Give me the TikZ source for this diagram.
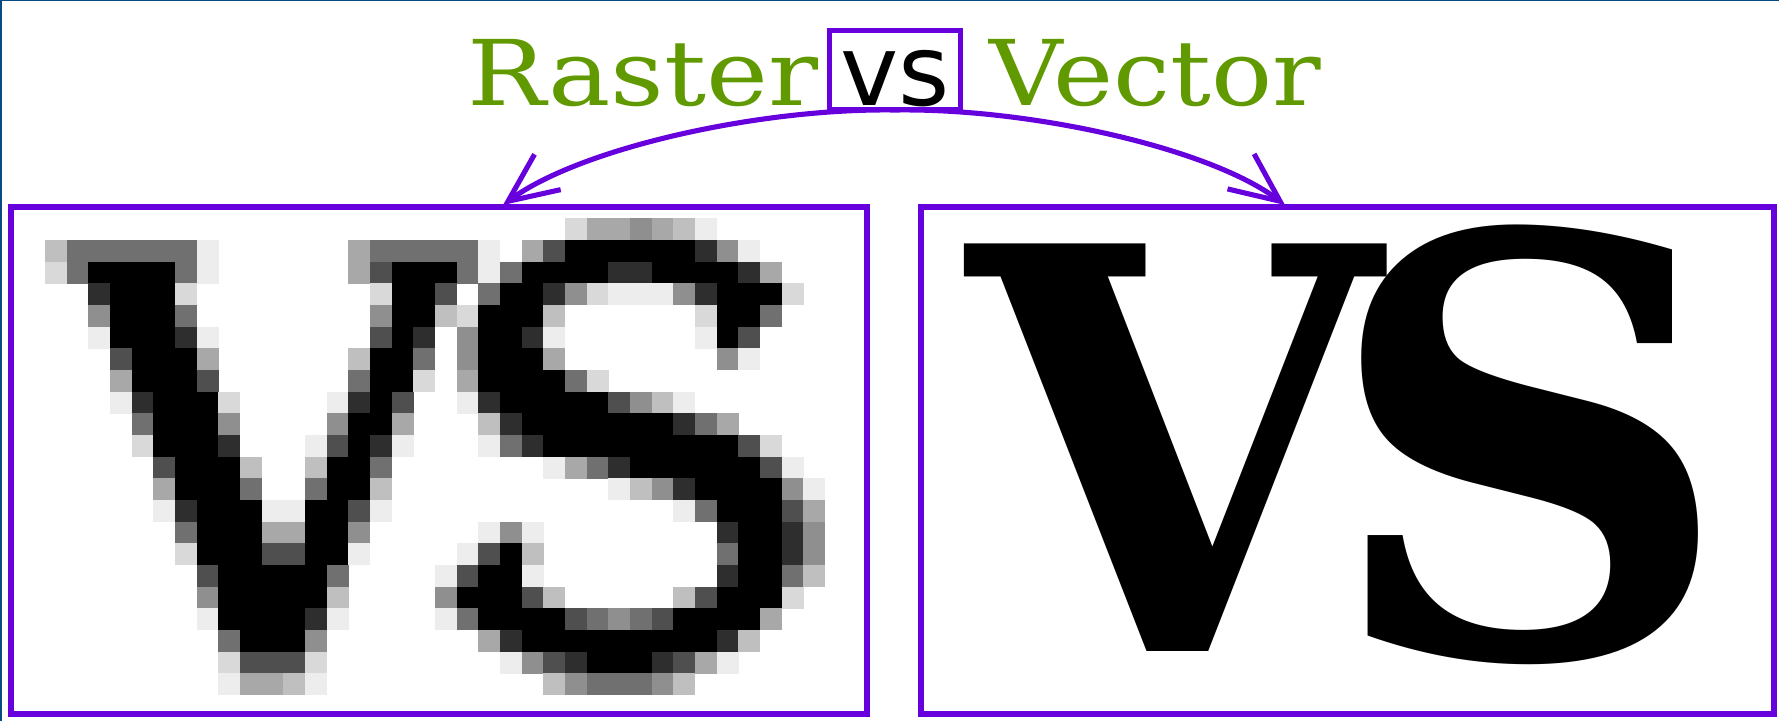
\documentclass[tikz,border=0pt]{standalone}
\usepackage{fontspec}
\usetikzlibrary{arrows.meta}
\newfontfamily\titlefont[FakeStretch=1.12]{DejaVu Serif}
\newfontfamily\vssans{DejaVu Sans}
\newfontfamily\bigserif{DejaVu Serif}
\definecolor{vpurple}{RGB}{102,0,221}
\definecolor{tgreen}{RGB}{96,153,0}
\definecolor{frameblue}{RGB}{8,74,130}
% pixel bitmap helpers
\newcommand\pxshade[1]{\ifcase#1 0\or 7\or 15\or 25\or 34\or 44\or 56\or 69\or 82\or 100\fi}
\newcommand\pxcell[1]{\ifnum#1>0 \edef\pxsh{\pxshade{#1}}\fill[black!\pxsh] ({45+21.67*\pxk},{218.3+21.67*\pxj}) rectangle ++(21.9,21.9);\fi\pgfmathtruncatemacro\pxk{\pxk+1}}
\def\pxparse#1{\ifx\relax#1\else\pxcell{#1}\expandafter\pxparse\fi}
\newcommand\pxrow[2]{\def\pxj{#1}\def\pxk{0}\pxparse#2\relax}
\tikzset{
  bigbox/.style={draw=vpurple, line width=1.7pt, inner sep=0pt, outer sep=0pt, minimum height=144.3pt},
  smallbox/.style={draw=vpurple, fill=white, line width=1.45pt, inner sep=0pt, outer sep=0pt,
    minimum width=37.3pt, minimum height=22.5pt, text height=20pt, text depth=0pt,
    font=\vssans\fontsize{28}{30}\selectfont},
  titletext/.style={text=tgreen, inner sep=0pt, font=\titlefont\fontsize{25.8}{28}\selectfont},
  link/.style={draw=vpurple, line width=1.45pt, -{Straight Barb[length=14pt,width=12.5pt]}},
  bigglyph/.style={inner sep=0pt, outer sep=0pt, font=\bigserif\bfseries\fontsize{159}{160}\selectfont}
}
\begin{document}
\begin{tikzpicture}[x=0.01cm,y=-0.01cm]
\useasboundingbox (0,0) rectangle (1779,721);
\fill[white] (0,0) rectangle (1779,721);
\fill[frameblue] (0,0) rectangle (1779,1.3);
\fill[frameblue] (0,0) rectangle (2.2,721);
% raster pixels
\pxrow{0}{000000000000000000000000244543100000}
\pxrow{1}{366666610000004666661047999999851000}
\pxrow{2}{269999610000004799961699998899998400}
\pxrow{3}{008999200000000299706998521115899920}
\pxrow{4}{005999600000000599329993000000299600}
\pxrow{5}{001999810000000798059981000000197000}
\pxrow{6}{000799940000003996059994000000051000}
\pxrow{7}{000499970000006992049999620000000000}
\pxrow{8}{000189992000018970018999997531000000}
\pxrow{9}{000069995000059940003899999998640000}
\pxrow{10}{000029998000179810001689999999997200}
\pxrow{11}{000007999300399600000001468999999710}
\pxrow{12}{000004999600699300000000001358999951}
\pxrow{13}{000001899911997100000000000001699974}
\pxrow{14}{000000699944995000001510000000089985}
\pxrow{15}{000000299977991000017930000000069985}
\pxrow{16}{000000079999960000179910000000089963}
\pxrow{17}{000000059999930000599973000003799920}
\pxrow{18}{000000019999810000169999765679999400}
\pxrow{19}{000000006999500000004899999999983000}
\pxrow{20}{000000002777200000000157899987410000}
\pxrow{21}{000000001443100000000003566653000000}
% boxes
\node[bigbox, minimum width=243.4pt] (rasterbox) at (439.25,460.75) {};
\node[bigbox, minimum width=242.7pt] (vectorbox) at (1347.5,460.75) {};
% vector glyphs
\node[bigglyph] (bigV) at (1174,448) {\scalebox{0.95}[1]{V}};
\node[bigglyph] (bigS) at (1528,445) {\scalebox{1.01}[1.04]{S}};
% title
\node[titletext, anchor=base] (raster) at (643,105) {\scalebox{1.03}[1]{Raster}};
\node[titletext, anchor=base] (vector) at (1155,105) {Vector};
\coordinate (ltip) at (503,205);
\coordinate (rtip) at (1285,205);
\draw[link] (895,110) .. controls (760,108) and (580,148) .. (ltip);
\draw[link] (895,110) .. controls (1030,108) and (1210,148) .. (rtip);
\node[smallbox] (vsbox) at (895,70) {vs};
\end{tikzpicture}
\end{document}
